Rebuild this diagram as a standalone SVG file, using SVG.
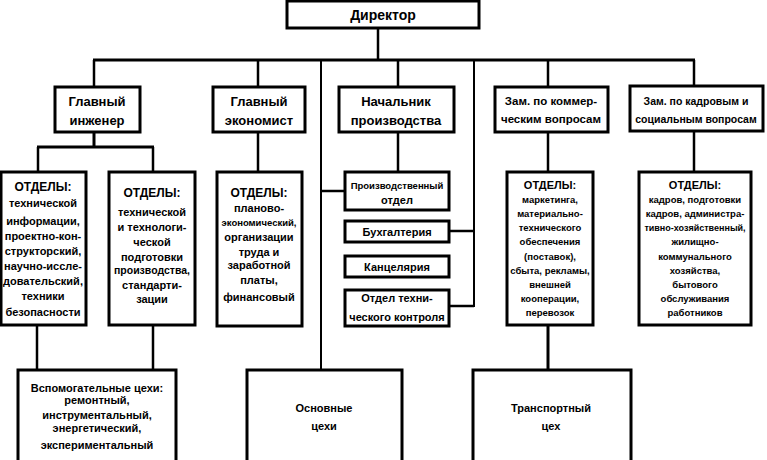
<svg xmlns="http://www.w3.org/2000/svg" width="767" height="460" viewBox="0 0 767 460">
<style>
.b{fill:#fff;stroke:#000;stroke-width:3}
.c line{stroke:#000;stroke-width:2.5}
text{font-family:"Liberation Sans",Arial,sans-serif;font-weight:bold;text-anchor:middle;fill:#000}
.h{font-size:13px}
.d{font-size:11px}
.s{font-size:9.5px}
.t{font-size:12px}
</style>
<rect width="767" height="460" fill="#fff"/>
<g class="c" id="connectors">
<line x1="378" y1="28" x2="378" y2="60"/>
<line x1="93" y1="60" x2="695" y2="60" style="stroke-width:3"/>
<line x1="94" y1="60" x2="94" y2="87"/>
<line x1="258" y1="60" x2="258" y2="87"/>
<line x1="321" y1="60" x2="321" y2="370" style="stroke-width:2"/>
<line x1="398" y1="60" x2="398" y2="87"/>
<line x1="474" y1="60" x2="474" y2="307" style="stroke-width:2"/>
<line x1="548" y1="60" x2="548" y2="87"/>
<line x1="694" y1="60" x2="694" y2="87"/>
<line x1="94" y1="132" x2="94" y2="147" style="stroke-width:3"/>
<line x1="37" y1="147" x2="154" y2="147" style="stroke-width:3"/>
<line x1="38" y1="147" x2="38" y2="172"/>
<line x1="153" y1="147" x2="153" y2="172"/>
<line x1="258" y1="132" x2="258" y2="172"/>
<line x1="398" y1="132" x2="398" y2="172"/>
<line x1="548" y1="132" x2="548" y2="172"/>
<line x1="694" y1="131" x2="694" y2="172"/>
<line x1="321" y1="191" x2="345" y2="191"/>
<line x1="449" y1="231" x2="474" y2="231"/>
<line x1="449" y1="306" x2="474" y2="306"/>
<line x1="37" y1="325" x2="37" y2="370"/>
<line x1="153" y1="325" x2="153" y2="370"/>
<line x1="548" y1="325" x2="548" y2="370" style="stroke-width:3"/>
</g>
<g id="director"><rect class="b" x="287" y="1" width="192" height="27"/><text class="h" x="383" y="20" style="font-size:14px">Директор</text></g>
<g id="engineer"><rect class="b" x="55" y="87" width="85" height="45"/><text class="h" x="97" y="106">Главный</text><text class="h" x="97" y="125">инженер</text></g>
<g id="economist"><rect class="b" x="213" y="87" width="92" height="45"/><text class="h" x="259" y="106">Главный</text><text class="h" x="259" y="125">экономист</text></g>
<g id="production"><rect class="b" x="339" y="87" width="115" height="45"/><text class="h" x="396" y="106">Начальник</text><text class="h" x="396" y="125">производства</text></g>
<g id="commerce"><rect class="b" x="495" y="87" width="113" height="45"/><text class="t" x="551" y="105" style="font-size:11.5px">Зам. по коммер-</text><text class="t" x="551" y="123" style="font-size:11.5px">ческим вопросам</text></g>
<g id="hr"><rect class="b" x="630" y="86" width="133" height="45"/><text class="t" x="696" y="105" style="font-size:10.5px">Зам. по кадровым и</text><text class="t" x="696" y="123" style="font-size:10.5px">социальным вопросам</text></g>
<g id="dept-eng1"><rect class="b" x="1" y="172" width="85" height="153"/>
<text class="d" x="43" y="191" style="font-size:12px">ОТДЕЛЫ:</text>
<text class="d" x="43" y="207">технической</text>
<text class="d" x="43" y="225">информации,</text>
<text class="d" x="43" y="240">проектно-кон-</text>
<text class="d" x="43" y="255">структорский,</text>
<text class="d" x="43" y="270">научно-иссле-</text>
<text class="d" x="43" y="285">довательский,</text>
<text class="d" x="43" y="300">техники</text>
<text class="d" x="43" y="316">безопасности</text></g>
<g id="dept-eng2"><rect class="b" x="109" y="172" width="86" height="153"/>
<text class="d" x="152" y="197" style="font-size:12px">ОТДЕЛЫ:</text>
<text class="d" x="152" y="216">технической</text>
<text class="d" x="152" y="231">и технологи-</text>
<text class="d" x="152" y="246">ческой</text>
<text class="d" x="152" y="261">подготовки</text>
<text class="d" x="152" y="274" style="font-size:10.5px">производства,</text>
<text class="d" x="152" y="289">стандарти-</text>
<text class="d" x="152" y="303">зации</text></g>
<g id="dept-econ"><rect class="b" x="217" y="172" width="85" height="154"/>
<text class="d" x="259" y="197" style="font-size:12px">ОТДЕЛЫ:</text>
<text class="d" x="259" y="212">планово-</text>
<text class="d" x="259" y="226" style="font-size:9.5px">экономический,</text>
<text class="d" x="259" y="241">организации</text>
<text class="d" x="259" y="256">труда и</text>
<text class="d" x="259" y="269">заработной</text>
<text class="d" x="259" y="284">платы,</text>
<text class="d" x="259" y="301">финансовый</text></g>
<g id="prod-dept"><rect class="b" x="345" y="172" width="104" height="38"/><text class="d" x="397" y="189" style="font-size:9.5px">Производственный</text><text class="d" x="397" y="204">отдел</text></g>
<g id="accounting"><rect class="b" x="345" y="221" width="104" height="21"/><text class="d" x="397" y="236">Бухгалтерия</text></g>
<g id="office"><rect class="b" x="345" y="256" width="104" height="21"/><text class="d" x="397" y="271">Канцелярия</text></g>
<g id="qc"><rect class="b" x="345" y="290" width="104" height="36"/><text class="d" x="397" y="302">Отдел техни-</text><text class="d" x="397" y="321">ческого контроля</text></g>
<g id="dept-comm"><rect class="b" x="507" y="172" width="86" height="153"/>
<text class="d" x="550" y="189">ОТДЕЛЫ:</text>
<text class="s" x="550" y="203">маркетинга,</text>
<text class="s" x="550" y="217">материально-</text>
<text class="s" x="550" y="231">технического</text>
<text class="s" x="550" y="245">обеспечения</text>
<text class="s" x="550" y="260">(поставок),</text>
<text class="s" x="550" y="274">сбыта, рекламы,</text>
<text class="s" x="550" y="288">внешней</text>
<text class="s" x="550" y="302">кооперации,</text>
<text class="s" x="550" y="316">перевозок</text></g>
<g id="dept-hr"><rect class="b" x="639" y="172" width="112" height="153"/>
<text class="d" x="695" y="189">ОТДЕЛЫ:</text>
<text class="s" x="695" y="203">кадров, подготовки</text>
<text class="s" x="695" y="217">кадров, администра-</text>
<text class="s" x="695" y="231" style="font-size:9px">тивно-хозяйственный,</text>
<text class="s" x="695" y="245">жилищно-</text>
<text class="s" x="695" y="260">коммунального</text>
<text class="s" x="695" y="274">хозяйства,</text>
<text class="s" x="695" y="288">бытового</text>
<text class="s" x="695" y="302">обслуживания</text>
<text class="s" x="695" y="316">работников</text></g>
<g id="aux-shops"><rect class="b" x="18" y="370" width="158" height="100"/>
<text class="d" x="97" y="392">Вспомогательные цехи:</text>
<text class="d" x="97" y="404">ремонтный,</text>
<text class="d" x="97" y="419">инструментальный,</text>
<text class="d" x="97" y="432">энергетический,</text>
<text class="d" x="97" y="449">экспериментальный</text></g>
<g id="main-shops"><rect class="b" x="247" y="370" width="155" height="100"/><text class="d" x="324" y="412">Основные</text><text class="d" x="324" y="430">цехи</text></g>
<g id="transport"><rect class="b" x="473" y="370" width="158" height="100"/><text class="d" x="551" y="412">Транспортный</text><text class="d" x="551" y="430">цех</text></g>
</svg>
